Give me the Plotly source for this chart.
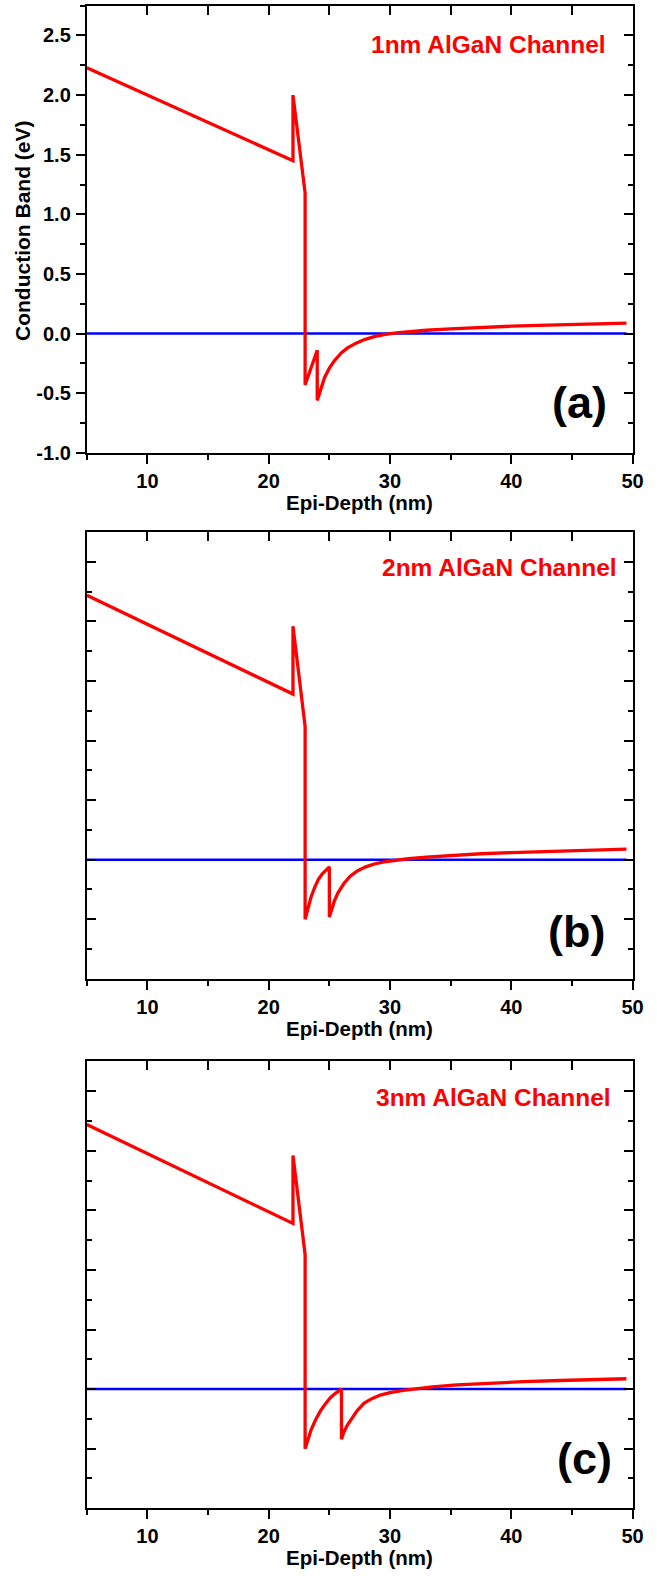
import plotly.graph_objects as go

W, H = 657, 1587

# Epi-depth (nm) and conduction-band energy (eV) for the three AlGaN channel thicknesses
depth_1nm = [5, 22, 22, 23, 23, 24, 24, 24.3, 24.6, 25.0, 25.4, 26.0, 26.5, 27.2, 27.9,
             28.7, 29.5, 30.5, 31.5, 33, 35, 37.5, 40, 43, 46, 49.5]
band_1nm = [2.23, 1.45, 2.00, 1.18, -0.43, -0.14, -0.56, -0.46, -0.37, -0.29, -0.23, -0.16,
            -0.12, -0.08, -0.05, -0.025, -0.008, 0.006, 0.016, 0.028, 0.04, 0.052, 0.062,
            0.071, 0.079, 0.088]

depth_2nm = [5, 22, 22, 23, 23, 23.2, 23.5, 23.8, 24.1, 24.4, 24.7, 25, 25, 25.2, 25.4,
             25.7, 26.2, 26.7, 27.3, 28, 28.7, 29.5, 30.5, 31.5, 33, 35, 37.5, 40, 43, 46, 49.5]
band_2nm = [2.22, 1.39, 1.96, 1.12, -0.50, -0.42, -0.31, -0.23, -0.165, -0.12, -0.085, -0.06,
            -0.48, -0.41, -0.35, -0.28, -0.20, -0.14, -0.095, -0.06, -0.036, -0.018, -0.004,
            0.008, 0.022, 0.037, 0.05, 0.06, 0.07, 0.08, 0.088]

depth_3nm = [5, 22, 22, 23, 23, 23.2, 23.5, 23.9, 24.3, 24.7, 25.1, 25.5, 26, 26, 26.2, 26.5,
             26.8, 27.3, 27.85, 28.5, 29.2, 30, 31.1, 32, 33.5, 35.5, 38, 41, 44, 47, 49.5]
band_3nm = [2.22, 1.39, 1.96, 1.13, -0.50, -0.43, -0.34, -0.25, -0.177, -0.12, -0.07, -0.035,
            0.0, -0.42, -0.36, -0.30, -0.25, -0.18, -0.12, -0.08, -0.05, -0.03, -0.01, 0.003,
            0.018, 0.035, 0.05, 0.062, 0.072, 0.08, 0.087]

# Fermi level reference
fermi_depth = [5, 49.5]
fermi_level = [0, 0]

channel_labels = ["1nm AlGaN Channel", "2nm AlGaN Channel", "3nm AlGaN Channel"]
panel_tags = ["(a)", "(b)", "(c)"]

x_tickvals = [10, 20, 30, 40, 50]
x_ticktext = ["10", "20", "30", "40", "50"]
y_tickvals = [-1.0, -0.5, 0.0, 0.5, 1.0, 1.5, 2.0, 2.5]
y_ticktext = ["-1.0", "-0.5", "0.0", "0.5", "1.0", "1.5", "2.0", "2.5"]

X_RANGE = [5, 50]
Y_RANGE = [-1.0, 2.75]

FONT = "Liberation Sans, Arial, sans-serif"

# Plot-area pixel geometry
PX_L, PX_R = 88.3, 643.3
PANELS_PX = [(5.7, 456.0), (535.7, 985.7), (1068.8, 1518.8)]
LABEL_POS = [(497.0, 45.0), (508.0, 571.7), (502.0, 1104.8)]
TAG_POS = [(589.0, 405.0), (586.5, 938.0), (594.0, 1469.0)]


def px_x(p):
    return p / W


def px_y(p):
    return 1 - p / H


fig = go.Figure()
series = [(depth_1nm, band_1nm), (depth_2nm, band_2nm), (depth_3nm, band_3nm)]

layout_axes = {}
annotations = []
for i, ((xs, ys), (top, bot)) in enumerate(zip(series, PANELS_PX)):
    n = i + 1
    xa, ya = f"x{n if n > 1 else ''}", f"y{n if n > 1 else ''}"
    xo, yo = f"x{n + 3}", f"y{n + 3}"

    fig.add_trace(go.Scatter(x=fermi_depth, y=fermi_level, mode="lines",
                             line=dict(color="#0000ff", width=2.5),
                             xaxis=xa, yaxis=ya, showlegend=False, hoverinfo="skip"))
    fig.add_trace(go.Scatter(x=xs, y=ys, mode="lines",
                             line=dict(color="#ff0000", width=3.3),
                             xaxis=xa, yaxis=ya, showlegend=False))
    # frame axes (top / right) with inward ticks
    fig.add_trace(go.Scatter(x=[], y=[], xaxis=xo, yaxis=yo, showlegend=False))

    dom_y = [px_y(bot), px_y(top)]
    dom_x = [px_x(PX_L), px_x(PX_R)]

    common = dict(showgrid=False, zeroline=False, showline=True, linecolor="black",
                  linewidth=2, tickcolor="black", tickwidth=2, ticklen=9)

    layout_axes[f"xaxis{n if n > 1 else ''}"] = dict(
        common, domain=dom_x, anchor=ya, range=X_RANGE, ticks="outside",
        tickvals=x_tickvals, ticktext=x_ticktext,
        tickfont=dict(family=FONT, size=20, color="black", weight="bold"),
        minor=dict(ticks="outside", dtick=5, tick0=0, ticklen=5, tickwidth=2,
                   tickcolor="black"))
    layout_axes[f"yaxis{n if n > 1 else ''}"] = dict(
        common, domain=dom_y, anchor=xa, range=Y_RANGE,
        ticks="outside" if n == 1 else "inside",
        tickvals=y_tickvals, ticktext=y_ticktext, showticklabels=(n == 1),
        ticklabelstandoff=1,
        tickfont=dict(family=FONT, size=20, color="black", weight="bold"),
        minor=dict(ticks="outside" if n == 1 else "inside", dtick=0.25, tick0=0,
                   ticklen=5, tickwidth=2, tickcolor="black"))
    layout_axes[f"xaxis{n + 3}"] = dict(
        common, overlaying=xa, side="top", anchor=yo, range=X_RANGE, ticks="inside",
        tickvals=x_tickvals, showticklabels=False,
        minor=dict(ticks="inside", dtick=5, tick0=0, ticklen=9, tickwidth=2,
                   tickcolor="black"))
    layout_axes[f"yaxis{n + 3}"] = dict(
        common, overlaying=ya, side="right", anchor=xo, range=Y_RANGE, ticks="inside",
        tickvals=y_tickvals, showticklabels=False,
        minor=dict(ticks="inside", dtick=0.25, tick0=0, ticklen=5, tickwidth=2,
                   tickcolor="black"))

    # x-axis title
    annotations.append(dict(text="Epi-Depth (nm)", x=px_x((PX_L + PX_R) / 2),
                            y=px_y(bot + 50), xref="paper", yref="paper",
                            xanchor="center", yanchor="middle", showarrow=False,
                            font=dict(family=FONT, size=20.5, color="black", weight="bold")))
    lx, ly = LABEL_POS[i]
    annotations.append(dict(text=channel_labels[i], x=px_x(lx), y=px_y(ly),
                            xref="paper", yref="paper", xanchor="center", yanchor="middle",
                            showarrow=False,
                            font=dict(family=FONT, size=24.5, color="#ff0000", weight="bold")))
    tx, ty = TAG_POS[i]
    annotations.append(dict(text=panel_tags[i], x=px_x(tx), y=px_y(ty),
                            xref="paper", yref="paper", xanchor="center", yanchor="middle",
                            showarrow=False,
                            font=dict(family=FONT, size=45, color="black", weight="bold")))

annotations.append(dict(text="Conduction Band (eV)", x=px_x(23), y=px_y(233),
                        xref="paper", yref="paper", xanchor="center", yanchor="middle",
                        textangle=-90, showarrow=False,
                        font=dict(family=FONT, size=21, color="black", weight="bold")))

fig.update_layout(
    width=W, height=H,
    margin=dict(l=0, r=0, t=0, b=0),
    paper_bgcolor="white", plot_bgcolor="white",
    showlegend=False,
    annotations=annotations,
    **layout_axes,
)

fig.write_html("out.html")
